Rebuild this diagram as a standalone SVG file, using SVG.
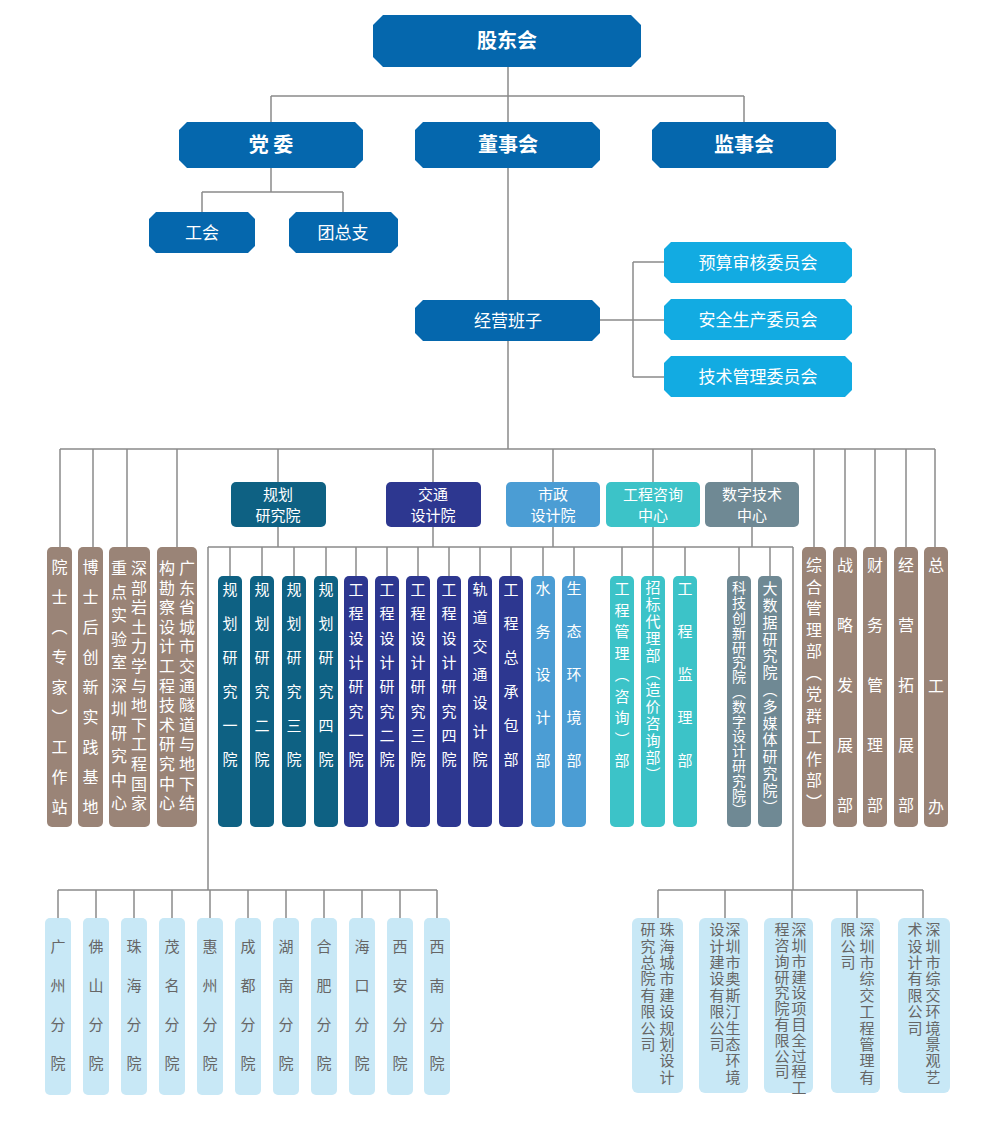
<svg xmlns="http://www.w3.org/2000/svg" width="1000" height="1130" viewBox="0 0 1000 1130">
<style>
text{font-family:"Noto Sans CJK SC","Noto Sans",sans-serif}
.w{fill:#fff;text-anchor:middle}
.b{font-weight:bold;font-size:20px}
.m{font-size:17px}
.h{font-size:15px}
.v{writing-mode:vertical-rl;font-size:15px;fill:#fff}
.vb{writing-mode:vertical-rl;font-size:16px;fill:#fff}
.vg{writing-mode:vertical-rl;font-size:15px;fill:#666}
.c line{stroke:#8a8a8a;stroke-width:1.5}
.dk{fill:#0567ad}.cy{fill:#12abe2}.gh{fill:#0e6183}.jt{fill:#2d3790}.sz{fill:#4b9dd4}.gc{fill:#3cc3c8}.sj{fill:#6f8994}.br{fill:#9a8477}.lb{fill:#c8e8f6}
</style>
<g class="c" id="connectors">
<line x1="508" y1="67" x2="508" y2="122"/><line x1="271" y1="96" x2="744" y2="96"/><line x1="271" y1="96" x2="271" y2="122"/><line x1="744" y1="96" x2="744" y2="122"/>
<line x1="271" y1="168" x2="271" y2="192"/><line x1="202" y1="192" x2="343" y2="192"/><line x1="202" y1="192" x2="202" y2="212"/><line x1="343" y1="192" x2="343" y2="212"/>
<line x1="508" y1="168" x2="508" y2="300"/><line x1="508" y1="341" x2="508" y2="449"/>
<line x1="600" y1="320" x2="664" y2="320"/><line x1="633" y1="262" x2="633" y2="377"/><line x1="633" y1="262" x2="664" y2="262"/><line x1="633" y1="377" x2="664" y2="377"/>
<line x1="60" y1="449" x2="935" y2="449"/>
<line x1="60" y1="449" x2="60" y2="547"/><line x1="93" y1="449" x2="93" y2="547"/><line x1="127" y1="449" x2="127" y2="547"/><line x1="177" y1="449" x2="177" y2="547"/>
<line x1="278" y1="449" x2="278" y2="482"/><line x1="433" y1="449" x2="433" y2="482"/><line x1="553" y1="449" x2="553" y2="482"/><line x1="653" y1="449" x2="653" y2="482"/><line x1="752" y1="449" x2="752" y2="482"/>
<line x1="814" y1="449" x2="814" y2="547"/><line x1="845" y1="449" x2="845" y2="547"/><line x1="875" y1="449" x2="875" y2="547"/><line x1="906" y1="449" x2="906" y2="547"/><line x1="935" y1="449" x2="935" y2="547"/>
<line x1="278" y1="527" x2="278" y2="547"/><line x1="433" y1="527" x2="433" y2="547"/><line x1="553" y1="527" x2="553" y2="547"/><line x1="653" y1="527" x2="653" y2="576"/><line x1="752" y1="527" x2="752" y2="547"/>
<line x1="208" y1="547" x2="793" y2="547"/>
<line x1="230" y1="547" x2="230" y2="576"/><line x1="262" y1="547" x2="262" y2="576"/><line x1="294" y1="547" x2="294" y2="576"/><line x1="326" y1="547" x2="326" y2="576"/><line x1="356" y1="547" x2="356" y2="576"/><line x1="387" y1="547" x2="387" y2="576"/><line x1="418" y1="547" x2="418" y2="576"/><line x1="449" y1="547" x2="449" y2="576"/><line x1="480" y1="547" x2="480" y2="576"/><line x1="511" y1="547" x2="511" y2="576"/><line x1="543" y1="547" x2="543" y2="576"/><line x1="574" y1="547" x2="574" y2="576"/><line x1="622" y1="547" x2="622" y2="576"/><line x1="685" y1="547" x2="685" y2="576"/><line x1="739" y1="547" x2="739" y2="576"/><line x1="770" y1="547" x2="770" y2="576"/>
<line x1="208" y1="547" x2="208" y2="890"/><line x1="58" y1="890" x2="437" y2="890"/>
<line x1="58" y1="890" x2="58" y2="918"/><line x1="96" y1="890" x2="96" y2="918"/><line x1="134" y1="890" x2="134" y2="918"/><line x1="172" y1="890" x2="172" y2="918"/><line x1="210" y1="890" x2="210" y2="918"/><line x1="248" y1="890" x2="248" y2="918"/><line x1="286" y1="890" x2="286" y2="918"/><line x1="324" y1="890" x2="324" y2="918"/><line x1="362" y1="890" x2="362" y2="918"/><line x1="400" y1="890" x2="400" y2="918"/><line x1="437" y1="890" x2="437" y2="918"/>
<line x1="793" y1="547" x2="793" y2="890"/><line x1="658" y1="890" x2="923" y2="890"/>
<line x1="658" y1="890" x2="658" y2="918"/><line x1="725" y1="890" x2="725" y2="918"/><line x1="792" y1="890" x2="792" y2="918"/><line x1="857" y1="890" x2="857" y2="918"/><line x1="923" y1="890" x2="923" y2="918"/>
</g>
<g id="gudonghui"><polygon class="dk" points="383,15 631,15 641,25 641,57 631,67 383,67 373,57 373,25"/><text class="w b" x="507" y="48">股东会</text></g>
<g id="dangwei"><polygon class="dk" points="187,122 355,122 363,130 363,160 355,168 187,168 179,160 179,130"/><text class="w b" x="271" y="152" xml:space="preserve">党 委</text></g>
<g id="dongshihui"><polygon class="dk" points="423,122 592,122 600,130 600,160 592,168 423,168 415,160 415,130"/><text class="w b" x="508" y="152">董事会</text></g>
<g id="jianshihui"><polygon class="dk" points="660,122 828,122 836,130 836,160 828,168 660,168 652,160 652,130"/><text class="w b" x="744" y="152">监事会</text></g>
<g id="gonghui"><polygon class="dk" points="156,212 248,212 255,219 255,246 248,253 156,253 149,246 149,219"/><text class="w m" x="202" y="239">工会</text></g>
<g id="tuanzongzhi"><polygon class="dk" points="296,212 391,212 398,219 398,246 391,253 296,253 289,246 289,219"/><text class="w m" x="343" y="239">团总支</text></g>
<g id="jingying"><polygon class="dk" points="423,300 592,300 600,308 600,333 592,341 423,341 415,333 415,308"/><text class="w m" x="508" y="327">经营班子</text></g>
<g id="yusuan"><polygon class="cy" points="671,242 845,242 852,249 852,276 845,283 671,283 664,276 664,249"/><text class="w m" x="758" y="269">预算审核委员会</text></g>
<g id="anquan"><polygon class="cy" points="671,299 845,299 852,306 852,333 845,340 671,340 664,333 664,306"/><text class="w m" x="758" y="326">安全生产委员会</text></g>
<g id="jishu"><polygon class="cy" points="671,356 845,356 852,363 852,390 845,397 671,397 664,390 664,363"/><text class="w m" x="758" y="383">技术管理委员会</text></g>
<g id="h-guihua"><rect class="gh" x="231" y="482" width="95" height="45" rx="5"/><text class="w h" x="278" y="500">规划</text><text class="w h" x="278" y="521">研究院</text></g>
<g id="h-jiaotong"><rect class="jt" x="386" y="482" width="95" height="45" rx="5"/><text class="w h" x="433" y="500">交通</text><text class="w h" x="433" y="521">设计院</text></g>
<g id="h-shizheng"><rect class="sz" x="506" y="482" width="94" height="45" rx="5"/><text class="w h" x="553" y="500">市政</text><text class="w h" x="553" y="521">设计院</text></g>
<g id="h-zixun"><rect class="gc" x="606" y="482" width="94" height="45" rx="5"/><text class="w h" x="653" y="500">工程咨询</text><text class="w h" x="653" y="521">中心</text></g>
<g id="h-shuzi"><rect class="sj" x="705" y="482" width="94" height="45" rx="5"/><text class="w h" x="752" y="500">数字技术</text><text class="w h" x="752" y="521">中心</text></g>
<g id="l1"><rect class="br" x="47" y="547" width="25" height="280" rx="5"/><text class="vb" x="59.5" y="559" style="letter-spacing:14px">院士（专家）工作站</text></g>
<g id="l2"><rect class="br" x="78" y="547" width="25" height="280" rx="5"/><text class="vb" x="90.5" y="559" style="letter-spacing:14px">博士后创新实践基地</text></g>
<g id="l3"><rect class="br" x="109" y="547" width="41" height="280" rx="5"/><text class="vb" x="139" y="560" style="letter-spacing:3.6px">深部岩土力学与地下工程国家</text><text class="vb" x="119" y="560" style="letter-spacing:7.5px">重点实验室深圳研究中心</text></g>
<g id="l4"><rect class="br" x="157" y="547" width="40" height="280" rx="5"/><text class="vb" x="187" y="560" style="letter-spacing:3.6px">广东省城市交通隧道与地下结</text><text class="vb" x="167" y="560" style="letter-spacing:3.6px">构勘察设计工程技术研究中心</text></g>
<g id="g1"><rect class="gh" x="218" y="576" width="24" height="251" rx="5"/><text class="v" x="230" y="582" style="letter-spacing:19px">规划研究一院</text></g>
<g id="g2"><rect class="gh" x="250" y="576" width="24" height="251" rx="5"/><text class="v" x="262" y="582" style="letter-spacing:19px">规划研究二院</text></g>
<g id="g3"><rect class="gh" x="282" y="576" width="24" height="251" rx="5"/><text class="v" x="294" y="582" style="letter-spacing:19px">规划研究三院</text></g>
<g id="g4"><rect class="gh" x="314" y="576" width="24" height="251" rx="5"/><text class="v" x="326" y="582" style="letter-spacing:19px">规划研究四院</text></g>
<g id="j1"><rect class="jt" x="344" y="576" width="24" height="251" rx="5"/><text class="v" x="356" y="582" style="letter-spacing:9.3px">工程设计研究一院</text></g>
<g id="j2"><rect class="jt" x="375" y="576" width="24" height="251" rx="5"/><text class="v" x="387" y="582" style="letter-spacing:9.3px">工程设计研究二院</text></g>
<g id="j3"><rect class="jt" x="406" y="576" width="24" height="251" rx="5"/><text class="v" x="418" y="582" style="letter-spacing:9.3px">工程设计研究三院</text></g>
<g id="j4"><rect class="jt" x="437" y="576" width="24" height="251" rx="5"/><text class="v" x="449" y="582" style="letter-spacing:9.3px">工程设计研究四院</text></g>
<g id="j5"><rect class="jt" x="468" y="576" width="24" height="251" rx="5"/><text class="v" x="480" y="582" style="letter-spacing:13.3px">轨道交通设计院</text></g>
<g id="j6"><rect class="jt" x="499" y="576" width="24" height="251" rx="5"/><text class="v" x="511" y="582" style="letter-spacing:19px">工程总承包部</text></g>
<g id="s1"><rect class="sz" x="531" y="576" width="24" height="251" rx="5"/><text class="v" x="543" y="581" style="letter-spacing:28px">水务设计部</text></g>
<g id="s2"><rect class="sz" x="562" y="576" width="24" height="251" rx="5"/><text class="v" x="574" y="581" style="letter-spacing:28px">生态环境部</text></g>
<g id="z1"><rect class="gc" x="610" y="576" width="24" height="251" rx="5"/><text class="v" x="622" y="581" style="letter-spacing:6.5px">工程管理（咨询）部</text></g>
<g id="z2"><rect class="gc" x="641" y="576" width="24" height="251" rx="5"/><text class="v" x="653" y="580" style="letter-spacing:2px">招标代理部（造价咨询部）</text></g>
<g id="z3"><rect class="gc" x="673" y="576" width="24" height="251" rx="5"/><text class="v" x="685" y="581" style="letter-spacing:28px">工程监理部</text></g>
<g id="d1"><rect class="sj" x="727" y="576" width="24" height="251" rx="5"/><text class="v" x="739" y="581" style="font-size:14px;letter-spacing:0.8px">科技创新研究院（数字设计研究院）</text></g>
<g id="d2"><rect class="sj" x="758" y="576" width="24" height="251" rx="5"/><text class="v" x="770" y="581" style="letter-spacing:1.8px">大数据研究院（多媒体研究院）</text></g>
<g id="r1"><rect class="br" x="802" y="547" width="24" height="280" rx="5"/><text class="vb" x="814" y="557" style="letter-spacing:5.5px">综合管理部（党群工作部）</text></g>
<g id="r2"><rect class="br" x="833" y="547" width="24" height="280" rx="5"/><text class="vb" x="845" y="557" style="letter-spacing:44px">战略发展部</text></g>
<g id="r3"><rect class="br" x="863" y="547" width="24" height="280" rx="5"/><text class="vb" x="875" y="557" style="letter-spacing:44px">财务管理部</text></g>
<g id="r4"><rect class="br" x="894" y="547" width="24" height="280" rx="5"/><text class="vb" x="906" y="557" style="letter-spacing:44px">经营拓展部</text></g>
<g id="r5"><rect class="br" x="924" y="547" width="24" height="280" rx="5"/><text class="vb" x="936" y="557" style="letter-spacing:105px">总工办</text></g>
<g id="b1"><rect class="lb" x="45" y="918" width="26" height="177" rx="5"/><text class="vg" x="58" y="939" style="letter-spacing:24px">广州分院</text></g>
<g id="b2"><rect class="lb" x="83" y="918" width="26" height="177" rx="5"/><text class="vg" x="96" y="939" style="letter-spacing:24px">佛山分院</text></g>
<g id="b3"><rect class="lb" x="121" y="918" width="26" height="177" rx="5"/><text class="vg" x="134" y="939" style="letter-spacing:24px">珠海分院</text></g>
<g id="b4"><rect class="lb" x="159" y="918" width="26" height="177" rx="5"/><text class="vg" x="172" y="939" style="letter-spacing:24px">茂名分院</text></g>
<g id="b5"><rect class="lb" x="197" y="918" width="26" height="177" rx="5"/><text class="vg" x="210" y="939" style="letter-spacing:24px">惠州分院</text></g>
<g id="b6"><rect class="lb" x="235" y="918" width="26" height="177" rx="5"/><text class="vg" x="248" y="939" style="letter-spacing:24px">成都分院</text></g>
<g id="b7"><rect class="lb" x="273" y="918" width="26" height="177" rx="5"/><text class="vg" x="286" y="939" style="letter-spacing:24px">湖南分院</text></g>
<g id="b8"><rect class="lb" x="311" y="918" width="26" height="177" rx="5"/><text class="vg" x="324" y="939" style="letter-spacing:24px">合肥分院</text></g>
<g id="b9"><rect class="lb" x="349" y="918" width="26" height="177" rx="5"/><text class="vg" x="362" y="939" style="letter-spacing:24px">海口分院</text></g>
<g id="b10"><rect class="lb" x="387" y="918" width="26" height="177" rx="5"/><text class="vg" x="400" y="939" style="letter-spacing:24px">西安分院</text></g>
<g id="b11"><rect class="lb" x="424" y="918" width="26" height="177" rx="5"/><text class="vg" x="437" y="939" style="letter-spacing:24px">西南分院</text></g>
<g id="c1"><rect class="lb" x="632" y="918" width="51" height="175" rx="6"/><text class="vg" x="667" y="922" style="letter-spacing:1.4px">珠海城市建设规划设计</text><text class="vg" x="648" y="922" style="letter-spacing:1.4px">研究总院有限公司</text></g>
<g id="c2"><rect class="lb" x="699" y="918" width="49" height="175" rx="6"/><text class="vg" x="733" y="922" style="letter-spacing:1.4px">深圳市奥斯汀生态环境</text><text class="vg" x="717" y="922" style="letter-spacing:1.4px">设计建设有限公司</text></g>
<g id="c3"><rect class="lb" x="764" y="918" width="49" height="175" rx="6"/><text class="vg" x="799" y="922" style="letter-spacing:0.8px">深圳市建设项目全过程工</text><text class="vg" x="782" y="922" style="letter-spacing:0.8px">程咨询研究院有限公司</text></g>
<g id="c4"><rect class="lb" x="831" y="918" width="49" height="175" rx="6"/><text class="vg" x="867" y="922" style="letter-spacing:1.4px">深圳市综交工程管理有</text><text class="vg" x="848" y="922" style="letter-spacing:1.4px">限公司</text></g>
<g id="c5"><rect class="lb" x="898" y="918" width="52" height="175" rx="6"/><text class="vg" x="933" y="922" style="letter-spacing:1.4px">深圳市综交环境景观艺</text><text class="vg" x="915" y="922" style="letter-spacing:1.4px">术设计有限公司</text></g>
</svg>
